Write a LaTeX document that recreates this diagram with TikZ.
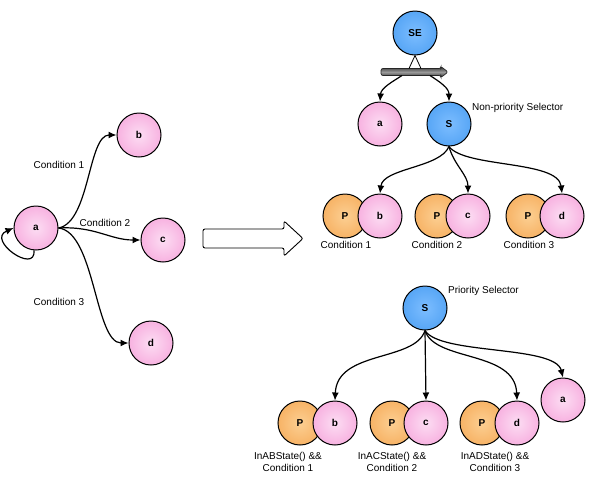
\documentclass[tikz,border=0pt]{standalone}
\usepackage{fontspec}
\setmainfont{Liberation Sans}
\usetikzlibrary{arrows.meta}
\definecolor{pinkO}{HTML}{F387CE}
\definecolor{pinkI}{HTML}{FCDDF3}
\definecolor{blueO}{HTML}{338FEC}
\definecolor{blueI}{HTML}{7CBDFF}
\definecolor{orO}{HTML}{F2973A}
\definecolor{orI}{HTML}{FCCF92}
\pgfdeclareradialshading{pinksh}{\pgfpoint{0bp}{0bp}}{color(0bp)=(pinkI); color(50bp)=(pinkO); color(60bp)=(pinkO)}
\pgfdeclareradialshading{bluesh}{\pgfpoint{0bp}{0bp}}{color(0bp)=(blueI); color(50bp)=(blueO); color(60bp)=(blueO)}
\pgfdeclareradialshading{orsh}{\pgfpoint{0bp}{0bp}}{color(0bp)=(orI); color(50bp)=(orO); color(60bp)=(orO)}
\tikzset{
  st/.style={circle, draw=black, line width=1pt, minimum size=44pt, inner sep=0pt, font=\fontsize{10}{12}\selectfont\bfseries},
  pk/.style={st, shading=pinksh},
  bl/.style={st, shading=bluesh},
  og/.style={st, shading=orsh},
  con/.style={-{Latex[length=8pt,width=7pt]}, line width=1.2pt},
  lbl/.style={font=\fontsize{10}{12}\selectfont, inner sep=0pt},
}
\begin{document}
\begin{tikzpicture}[x=1pt,y=-1pt]
\fill[white] (0,0) rectangle (590,480);
\useasboundingbox (0,0) rectangle (590,480);

% ---------- left state machine ----------
\node[pk] (la) at (36,228) {a};
\node[pk] (lb) at (139,135) {b};
\node[pk] (lc) at (163,240) {c};
\node[pk] (ld) at (151,343) {d};
\draw[con] (la.east) .. controls (90,222) and (88,135) .. (lb.west);
\draw[con] (la.east) .. controls (95,226) and (110,240) .. (lc.west);
\draw[con] (la.east) .. controls (95,232) and (95,343) .. (ld.west);
\draw[con] (la.265) .. controls (36,275) and (-14,240) .. (la.west);
\node[lbl] (l1) at (59,165) {Condition 1};
\node[lbl] (l2) at (105,223) {Condition 2};
\node[lbl] (l3) at (59,302) {Condition 3};

% ---------- big arrow ----------
\draw[line width=0.9pt, rounded corners=2pt, fill=white]
  (203,229) -- (284,229) -- (284,221) -- (303,238.5) -- (284,256) -- (284,248) -- (203,248) -- cycle;

% ---------- non-priority selector ----------
\node[bl] (se) at (415,33) {SE};
\path[draw=black!85, line width=0.7pt, top color=black!80, bottom color=black!80, middle color=black!40, rounded corners=2pt]
  (381,68.5) -- (441,68.5) -- (441,66.5) -- (448,72) -- (441,77.5) -- (441,75.5) -- (381,75.5) -- cycle;
\coordinate (bt1) at (409,68.5);
\coordinate (bt2) at (421,68.5);
\coordinate (bb1) at (402,75.5);
\coordinate (bb2) at (430,75.5);
\draw[line width=0.8pt] (se.south) -- (bt1);
\draw[line width=0.8pt] (se.south) -- (bt2);
\node[pk] (ua) at (380,124) {a};
\node[bl] (us) at (449,124) {S};
\node[lbl, anchor=west] (nps) at (472,108) {Non-priority Selector};
\draw[con] (bb1) .. controls (392,82) and (381,88) .. (ua.north);
\draw[con] (bb2) .. controls (440,82) and (449,88) .. (us.north);

\node[og] (p1) at (345,216) {P};
\node[pk] (b1) at (380,216) {b};
\node[og] (p2) at (437,216) {P};
\node[pk] (c1) at (468,216) {c};
\node[og] (p3) at (528,216) {P};
\node[pk] (d1) at (562,216) {d};
\draw[con] (us.south) .. controls (440,168) and (383,168) .. (b1.north);
\draw[con] (us.south) .. controls (454,165) and (468,175) .. (c1.north);
\draw[con] (us.south) .. controls (465,168) and (558,160) .. (d1.north);
\node[lbl] (u1) at (346,245) {Condition 1};
\node[lbl] (u2) at (437,245) {Condition 2};
\node[lbl] (u3) at (529,245) {Condition 3};

% ---------- priority selector ----------
\node[bl] (ps) at (425,308) {S};
\node[lbl, anchor=west] (psl) at (448,291) {Priority Selector};
\node[og] (p4) at (300,423) {P};
\node[pk] (b2) at (335,423) {b};
\node[og] (p5) at (392,423) {P};
\node[pk] (c2) at (426,423) {c};
\node[og] (p6) at (482,423) {P};
\node[pk] (d2) at (517,423) {d};
\node[pk] (a2) at (563,400) {a};
\draw[con] (ps.south) .. controls (415,362) and (337,350) .. (b2.north);
\draw[con] (ps.south) -- (c2.north);
\draw[con] (ps.south) .. controls (435,362) and (515,350) .. (d2.north);
\draw[con] (ps.south) .. controls (440,355) and (555,345) .. (a2.north);
\node[lbl, align=center] (q1) at (288,462) {InABState() \&\&\\Condition 1};
\node[lbl, align=center] (q2) at (392,462) {InACState() \&\&\\Condition 2};
\node[lbl, align=center] (q3) at (495,462) {InADState() \&\&\\Condition 3};
\end{tikzpicture}
\end{document}
